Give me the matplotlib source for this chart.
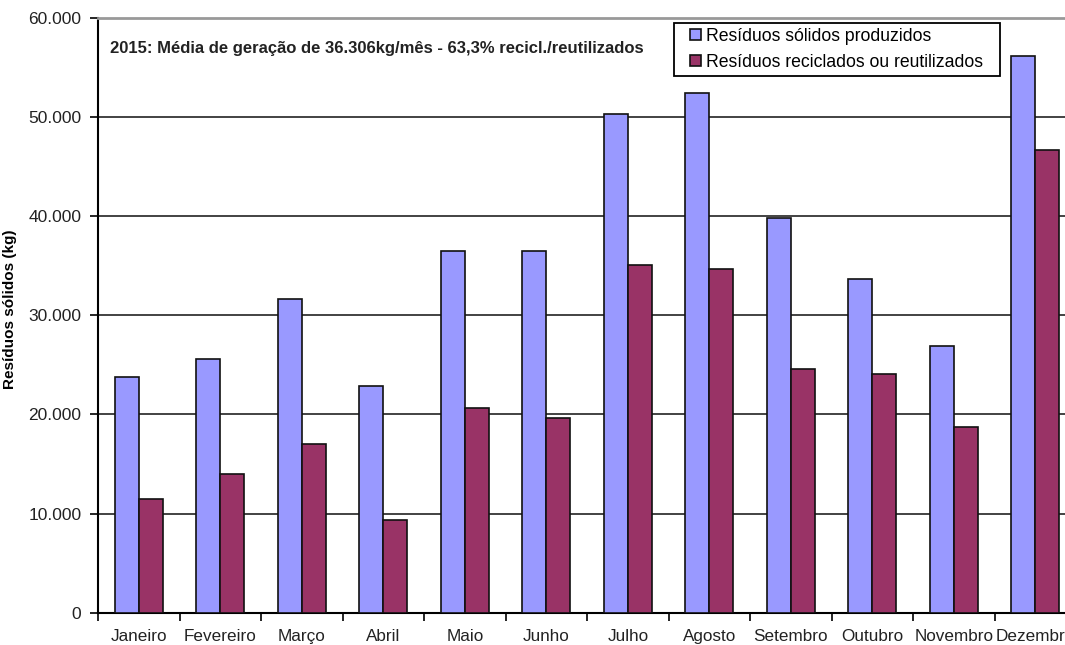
import numpy as np
import matplotlib.pyplot as plt
from matplotlib.patches import Rectangle
from matplotlib.ticker import FuncFormatter

plt.rcParams['font.family'] = ['Liberation Sans', 'DejaVu Sans']

meses = ["Janeiro", "Fevereiro", "Março", "Abril", "Maio", "Junho",
         "Julho", "Agosto", "Setembro", "Outubro", "Novembro", "Dezembro"]
produzidos = [23750, 25550, 31700, 22830, 36470, 36470,
              50300, 52420, 39800, 33640, 26870, 56160]
reciclados = [11470, 14000, 16990, 9390, 20610, 19600,
              35050, 34650, 24550, 24040, 18690, 46670]

W, H = 1065, 645
fig = plt.figure(figsize=(W / 100, H / 100), dpi=100)
ax = fig.add_axes([98 / W, 32.3 / H, 978 / W, 594.7 / H])

x = np.arange(len(meses))
w = 0.295
ax.bar(x - w / 2, produzidos, w, color="#9999FF", edgecolor="#111111",
       linewidth=1.2, label="Resíduos sólidos produzidos", zorder=3)
ax.bar(x + w / 2, reciclados, w, color="#993366", edgecolor="#111111",
       linewidth=1.2, label="Resíduos reciclados ou reutilizados", zorder=3)

ax.set_xlim(-0.5, len(meses) - 0.5)
ax.set_ylim(0, 60000)
ax.set_yticks(np.arange(0, 60001, 10000))
ax.yaxis.set_major_formatter(FuncFormatter(lambda v, p: f"{int(v):,}".replace(",", ".")))
ax.yaxis.grid(True, color="#222222", linewidth=1.2, zorder=0)

# category boundaries get the tick marks, names sit between them
ax.set_xticks(x - 0.5)
ax.set_xticklabels([])
ax.set_xticks(x, minor=True)
ax.set_xticklabels(meses, minor=True, fontsize=12.3, color="#222222")
ax.tick_params(axis="x", which="major", length=6, width=1.2, direction="out")
ax.tick_params(axis="x", which="minor", length=0, pad=12)
ax.tick_params(axis="y", length=6, width=1.2, labelsize=12.5, labelcolor="#222222", pad=6)

for s in ["top", "right"]:
    ax.spines[s].set_visible(False)
ax.spines["left"].set_linewidth(1.5)
ax.spines["bottom"].set_linewidth(1.5)
ax.axhline(60000, color="#999999", linewidth=2.0, zorder=4, clip_on=False)

ax.set_ylabel("Resíduos sólidos (kg)", fontsize=11, fontweight="bold")
ax.yaxis.set_label_coords((17 - 98) / 978, 0.51)

fig.text(110 / W, 1 - 48 / H,
         "2015: Média de geração de 36.306kg/mês - 63,3% recicl./reutilizados",
         fontsize=12.0, fontweight="bold", color="#222222", va="center")

# legend without its own frame; the box is drawn separately with wider left margin
leg = fig.legend(loc="upper left", bbox_to_anchor=(690 / W, 1 - 28 / H),
                 fontsize=12.7, frameon=False, borderpad=0,
                 handlelength=0.6, handleheight=0.6, handletextpad=0.3,
                 labelspacing=0.5, borderaxespad=0)
fig.patches.append(Rectangle((674 / W, 1 - 76 / H), 326 / W, 53 / H,
                             transform=fig.transFigure, fill=False,
                             edgecolor="black", linewidth=1.3, zorder=5))

fig.savefig("out.png", dpi=100)
